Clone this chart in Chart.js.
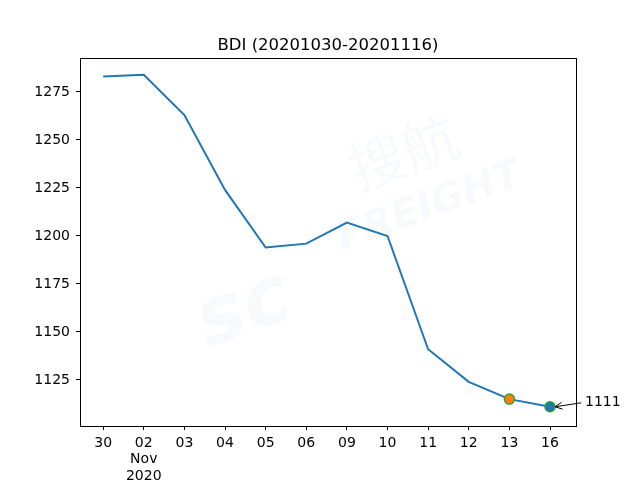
<!DOCTYPE html>
<html>
<head>
<meta charset="utf-8">
<script src="https://cdn.jsdelivr.net/npm/chart.js@4/dist/chart.umd.min.js"></script>
<style>
  html, body { margin: 0; padding: 0; background: #fff; }
</style>
</head>
<body>
<canvas id="myChart" width="640" height="480"></canvas>
<script>
// data
const days = ['30', ['02', 'Nov', '2020'], '03', '04', '05', '06', '09', '10', '11', '12', '13', '16'];
const bdi = [1283, 1284, 1263, 1224, 1194, 1196, 1207, 1200, 1141, 1124, 1115, 1111];
const yTicks = [1125, 1150, 1175, 1200, 1225, 1250, 1275];
const titleText = 'BDI (20201030-20201116)';
const lastLabel = '1111';

const FONT = 'DejaVu Sans';

// frame, title, watermark and the arrow annotation
const extras = {
    id: 'extras',
    beforeDatasetsDraw(chart) {
        const ctx = chart.ctx;
        ctx.save();
        ctx.globalAlpha = 0.035;
        ctx.fillStyle = '#1f5f9f';
        ctx.translate(340, 230);
        ctx.rotate(-0.35);
        ctx.font = 'italic bold 80px ' + FONT;
        ctx.fillText('sc', -165, 65);
        ctx.font = 'italic bold 40px ' + FONT;
        ctx.fillText('FREIGHT', -5, 20);
        ctx.font = '56px "Noto Sans CJK SC"';
        ctx.fillText('搜航', 30, -30);
        ctx.restore();
    },
    afterDraw(chart) {
        const ctx = chart.ctx;
        const a = chart.chartArea;
        ctx.save();
        ctx.strokeStyle = '#000';
        ctx.lineWidth = 1;
        ctx.strokeRect(Math.round(a.left) + 0.5, Math.round(a.top) + 0.5,
            Math.round(a.right - a.left), Math.round(a.bottom - a.top));

        ctx.fillStyle = '#000';
        ctx.font = '16.5px ' + FONT;
        ctx.textAlign = 'center';
        ctx.textBaseline = 'alphabetic';
        ctx.fillText(titleText, (a.left + a.right) / 2, 50);

        // annotation for the last point
        const xs = chart.scales.x, ys = chart.scales.y;
        const i = bdi.length - 1;
        const px = xs.getPixelForValue(i), py = ys.getPixelForValue(bdi[i]);
        const tx = a.right + 9, ty = py - 4;
        ctx.font = '14px ' + FONT;
        ctx.textAlign = 'left';
        ctx.textBaseline = 'middle';
        ctx.fillText(lastLabel, tx, ty);
        const sx = tx - 4, sy = ty;
        const ex = px + 5, ey = py;
        ctx.beginPath();
        ctx.moveTo(sx, sy);
        ctx.lineTo(ex, ey);
        ctx.stroke();
        const ang = Math.atan2(ey - sy, ex - sx);
        ctx.beginPath();
        ctx.moveTo(ex - 8 * Math.cos(ang - 0.45), ey - 8 * Math.sin(ang - 0.45));
        ctx.lineTo(ex, ey);
        ctx.lineTo(ex - 8 * Math.cos(ang + 0.45), ey - 8 * Math.sin(ang + 0.45));
        ctx.stroke();
        ctx.restore();
    }
};

const pointFill = bdi.map((v, i) => i === bdi.length - 1 ? '#1f77b4' : (i === bdi.length - 2 ? '#ff7f0e' : 'rgba(0,0,0,0)'));
const pointEdge = bdi.map((v, i) => i >= bdi.length - 2 ? '#2ca02c' : 'rgba(0,0,0,0)');
const pointRad = bdi.map((v, i) => i >= bdi.length - 2 ? 5 : 0);

const ctx = document.getElementById('myChart').getContext('2d');
const myChart = new Chart(ctx, {
    type: 'line',
    data: {
        datasets: [{
            data: bdi.map((v, i) => ({ x: i, y: v })),
            borderColor: '#1f77b4',
            borderWidth: 2,
            tension: 0,
            pointRadius: pointRad,
            pointBackgroundColor: pointFill,
            pointBorderColor: pointEdge,
            pointBorderWidth: 1.5,
            pointHoverRadius: pointRad
        }]
    },
    options: {
        responsive: false,
        animation: false,
        layout: { padding: { top: 58, right: 64, left: 0, bottom: 0 } },
        plugins: {
            legend: { display: false },
            title: { display: false },
            tooltip: { enabled: false }
        },
        scales: {
            x: {
                type: 'linear',
                min: -0.57,
                max: 11.64,
                afterFit: s => { s.height = 54; },
                afterBuildTicks: s => { s.ticks = days.map((d, i) => ({ value: i })); },
                grid: { drawOnChartArea: false, tickLength: 4, color: '#000' },
                border: { color: '#000' },
                ticks: {
                    color: '#000',
                    font: { family: FONT, size: 14, lineHeight: 1.18 },
                    padding: 5,
                    maxRotation: 0,
                    autoSkip: false,
                    callback: (v) => days[v]
                }
            },
            y: {
                min: 1101,
                max: 1292.7,
                afterFit: s => { s.width = 80; },
                afterBuildTicks: s => { s.ticks = yTicks.map(v => ({ value: v })); },
                grid: { drawOnChartArea: false, tickLength: 4, color: '#000' },
                border: { color: '#000' },
                ticks: {
                    color: '#000',
                    font: { family: FONT, size: 14 },
                    padding: 6,
                    callback: (v) => String(v)
                }
            }
        }
    },
    plugins: [extras]
});
</script>
</body>
</html>
